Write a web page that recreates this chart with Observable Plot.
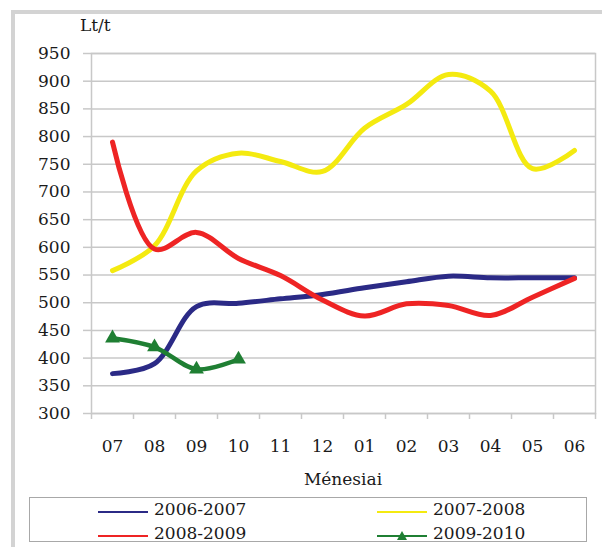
<!DOCTYPE html>
<html>
<head>
<meta charset="utf-8">
<script src="https://cdn.jsdelivr.net/npm/d3@7"></script>
<script src="https://cdn.jsdelivr.net/npm/@observablehq/plot@0.6"></script>
<style>
  html, body { margin: 0; padding: 0; background: #fff; }
  #wrap { position: relative; width: 602px; height: 547px; overflow: hidden; font-family: "DejaVu Serif", serif; color: #1a1a1a; }
  #border { position: absolute; left: 11px; top: 10px; width: 620px; height: 560px; border-left: 4px solid #d3d3d3; border-top: 4px solid #d3d3d3; }
  #chart { position: absolute; left: 0; top: 0; }
  #unit { position: absolute; left: 80px; top: 15px; font-size: 17px; }
  #xlabel { position: absolute; left: 343px; top: 469px; transform: translateX(-50%); font-size: 17px; }
  #legend { position: absolute; left: 29px; top: 497px; width: 556px; height: 43px; border: 1.5px solid #a8a8a8; font-size: 17px; }
  .item { position: absolute; height: 22px; line-height: 22px; white-space: nowrap; }
  .item svg { vertical-align: middle; }
</style>
</head>
<body>
<div id="wrap">
  <div id="border"></div>
  <div id="chart"></div>
  <div id="unit">Lt/t</div>
  <div id="xlabel">Ménesiai</div>
  <div id="legend"></div>
</div>
<script>
const months = ["07","08","09","10","11","12","01","02","03","04","05","06"];
const seriesNames = ["2006-2007","2007-2008","2008-2009","2009-2010"];
const seriesColors = ["#2b2a86","#f4ea10","#ee2424","#1f7f33"];
const s2006 = [372,390,493,499,507,515,527,538,548,545,545,545];
const s2007 = [558,603,738,770,755,737,815,858,912,882,742,775];
const s2008 = [790,597,627,580,549,505,476,498,495,477,510,544];
const s2009 = [436,420,380,398];
const yTicks = [300,350,400,450,500,550,600,650,700,750,800,850,900,950];

const allSeries = [s2006, s2007, s2008, s2009];
const rows = [];
allSeries.forEach((vals, k) => vals.forEach((v, i) => rows.push({i, value: v, series: seriesNames[k]})));
const idx = months.map((m, i) => i);
const bounds = [-0.5, ...idx.map(i => i + 0.5)];
const gridColor = "#c8c8c8";

const chart = Plot.plot({
  width: 602, height: 495,
  marginLeft: 91, marginRight: 7, marginTop: 53, marginBottom: 82,
  x: {domain: [-0.5, months.length - 0.5]},
  y: {domain: [300, 950]},
  color: {domain: seriesNames, range: seriesColors},
  style: {fontFamily: "DejaVu Serif", fontSize: "17px", color: "#1a1a1a", background: "transparent"},
  marks: [
    Plot.gridY(yTicks, {stroke: gridColor, strokeOpacity: 1, strokeWidth: 1.5}),
    Plot.axisY(yTicks, {tickSize: 8, tickPadding: 13, stroke: gridColor, strokeOpacity: 1, strokeWidth: 1.5, label: null, fontSize: 17}),
    Plot.axisX(bounds, {tickSize: 6, tickFormat: () => "", stroke: gridColor, strokeOpacity: 1, strokeWidth: 1.5, label: null}),
    Plot.axisX(idx, {tickSize: 0, tickPadding: 26, tickFormat: i => months[i], label: null, fontSize: 17}),
    Plot.frame({stroke: gridColor, strokeWidth: 1.5}),
    Plot.line(rows.filter(d => d.series !== seriesNames[3]), {x: "i", y: "value", stroke: "series", curve: "catmull-rom", strokeWidth: 5, strokeLinecap: "round", strokeLinejoin: "round"}),
    Plot.line(rows.filter(d => d.series === seriesNames[3]), {x: "i", y: "value", stroke: "series", curve: "catmull-rom", strokeWidth: 4.5, strokeLinecap: "round", strokeLinejoin: "round"}),
    Plot.dot(rows.filter(d => d.series === seriesNames[3]), {x: "i", y: "value", symbol: "triangle", fill: seriesColors[3], r: 5.5})
  ]
});
document.getElementById("chart").appendChild(chart);

// Legend
const legend = document.getElementById("legend");
const pos = [[68, 0], [347, 0], [68, 24], [347, 24]];
seriesNames.forEach((name, k) => {
  const div = document.createElement("div");
  div.className = "item";
  div.style.left = pos[k][0] + "px";
  div.style.top = pos[k][1] + "px";
  const marker = k === 3 ? `<path d="M25,4 L30,13 L20,13 Z" fill="${seriesColors[k]}"/>` : "";
  div.innerHTML = `<svg width="52" height="16"><line x1="0" x2="50" y1="9" y2="9" stroke="${seriesColors[k]}" stroke-width="2"/>${marker}</svg><span style="margin-left:4px">${name}</span>`;
  legend.appendChild(div);
});
</script>
</body>
</html>
